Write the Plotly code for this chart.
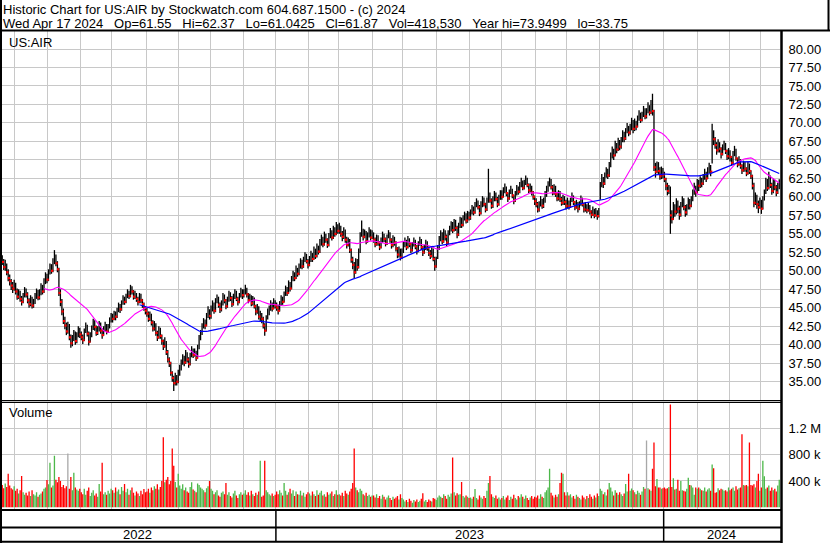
import numpy as np
import pandas as pd
import plotly.graph_objects as go

W, H = 830, 543
FONT = "Liberation Sans, Arial, sans-serif"

# ---------------- data ----------------
dates = pd.bdate_range("2022-04-18", "2024-04-17")

close = [
    51.8, 51.2, 50.5, 50.9, 49.8, 49.0, 48.6, 48.0, 47.6, 48.2,
    47.2, 46.5, 47.0, 46.2, 45.8, 46.6, 47.3, 46.8, 46.0, 45.5, 46.2, 45.3, 45.8, 46.5, 47.1, 46.4, 47.0, 47.8, 47.2, 48.5, 49.2, 48.8,
    49.8, 50.5, 50.0, 51.2, 51.8, 51.0, 50.2, 47.0, 45.8, 44.5, 43.2, 42.6, 41.8, 41.8, 41.0, 40.2, 40.8, 41.5, 40.5, 41.2, 42.0, 41.4,
    41.0, 40.6, 41.8, 42.5, 41.5, 40.4, 41.2, 42.2, 43.0, 42.4, 41.6, 42.0, 42.8, 41.9, 41.3, 42.0, 42.6, 41.8, 42.4, 43.2, 43.8,
    43.5, 44.2, 43.8, 44.6, 45.2, 44.8, 45.6, 46.2, 45.8, 46.5, 47.0, 46.6, 47.6, 47.2, 46.5, 46.9, 46.2, 45.8, 46.6, 46.0, 45.5, 45.0, 44.6,
    44.2, 43.5, 44.0, 43.0, 42.2, 42.8, 41.6, 41.0, 42.0, 41.2, 40.5, 39.8, 40.6, 39.0, 38.0, 37.5, 36.2, 35.5, 34.8, 35.6, 35.0, 36.0,
    36.8, 37.5, 38.2, 37.6, 38.8, 38.0, 37.4, 38.5, 39.2, 38.6, 39.0, 38.2, 39.5, 40.8, 41.5, 42.4, 43.0, 42.6, 43.8, 44.5, 43.9,
    44.8, 45.5, 44.6, 45.8, 46.2, 45.4, 44.8, 45.6, 46.5, 46.0, 45.2, 46.1, 46.8, 46.3, 45.5, 46.4, 47.0, 46.2, 45.8, 46.6, 47.2, 46.7,
    47.0, 47.5, 46.8, 46.0, 46.5, 45.6, 46.2, 45.2, 44.5, 45.0, 43.8, 44.0, 43.5, 42.6, 41.9, 43.6, 44.4, 44.8, 45.5, 44.9, 45.8, 45.3,
    45.0, 44.6, 45.5, 46.2, 45.8, 46.8, 47.5, 47.0, 48.2, 47.6, 48.8, 49.5, 49.0, 50.2, 49.6, 50.5, 51.2, 50.6, 51.4, 52.0, 51.3, 50.8,
    51.5, 52.2, 51.6, 52.8, 52.0, 53.2, 52.6, 53.8, 54.4, 53.6, 54.8, 54.2, 53.5, 54.6, 55.2, 54.5, 55.6, 55.0, 56.0, 55.4,
    55.8, 55.0, 54.6, 55.4, 54.2, 53.5, 54.0, 52.8, 51.5, 50.8, 49.8, 51.2, 50.5, 52.6, 54.8, 55.5, 54.6, 55.2, 54.0, 54.8, 55.4, 54.5, 55.0,
    54.2, 53.6, 54.5, 53.8, 53.2, 54.0, 54.8, 54.3, 53.7, 54.5, 55.0, 54.2, 53.5, 54.4, 53.8, 53.0, 52.2, 52.8, 51.8, 52.6,
    53.4, 54.0, 53.2, 54.2, 53.6, 52.8, 53.5, 54.0, 53.3, 52.7, 53.6, 54.1, 53.2, 52.5, 53.0, 53.8, 53.1, 52.4, 52.0, 52.8, 51.6, 50.6, 51.4,
    53.0, 54.2, 54.8, 54.0, 55.2, 54.6, 53.8, 55.0, 55.6, 56.2, 55.5, 56.5, 55.8, 54.9, 56.0, 56.8, 56.2, 57.0, 57.5, 56.8, 57.6, 57.2,
    57.8, 58.4, 57.9, 58.8, 59.3, 58.6, 57.8, 58.9, 59.6, 59.0, 58.3, 59.4, 60.2, 59.5, 58.8, 59.6, 60.3, 59.7, 59.0, 59.8, 60.4,
    60.0, 60.8, 61.2, 60.5, 59.8, 60.6, 61.0, 60.2, 59.5, 60.4, 61.1, 60.7, 61.5, 62.0, 61.2, 61.8, 62.4, 61.6, 60.9, 61.3, 60.6, 60.0, 59.4,
    59.0, 58.3, 58.9, 59.6, 58.8, 59.4, 60.3, 61.0, 61.6, 62.0, 61.3, 60.6, 61.2, 60.4, 59.8, 60.5, 59.7, 59.2, 59.8, 59.3, 58.8,
    59.4, 58.7, 59.5, 60.1, 59.3, 58.6, 59.2, 58.4, 59.0, 59.7, 59.0, 58.3, 58.9, 58.2, 58.8, 58.0, 57.6, 58.3, 57.5, 58.1, 57.4, 58.0,
    61.5, 62.4, 61.8, 62.8, 63.5, 62.9, 64.2, 65.5, 66.2, 65.6, 67.0, 66.4, 67.5, 66.8, 67.6, 68.5, 67.9, 68.8, 69.5, 68.7, 69.3, 70.0,
    69.2, 70.1, 69.5, 70.6, 71.2, 70.4, 71.0, 71.8, 70.9, 70.9, 72.2, 71.4, 72.6, 71.6, 64.0, 63.4, 64.2, 63.5, 62.8, 63.6, 63.0,
    62.4, 61.5, 60.8, 61.2, 57.5, 57.0, 58.6, 58.0, 59.2, 58.4, 57.6, 58.8, 59.5, 58.6, 57.9, 58.5, 59.4, 58.8, 59.6, 60.5, 61.2, 60.6, 61.8,
    61.5, 62.3, 61.8, 62.6, 63.2, 62.5, 63.5, 64.0, 63.4, 68.5, 67.8, 67.0, 66.3, 67.2, 66.5, 65.8, 66.6, 67.0, 66.2, 65.5, 66.1,
    65.4, 64.6, 65.8, 66.3, 65.2, 64.4, 65.0, 64.2, 63.6, 64.5, 63.8, 63.2, 64.3, 63.5, 62.8, 61.5, 59.2, 60.0, 59.0, 58.6, 59.4,
    58.4, 59.6, 60.5, 61.8, 61.2, 62.4, 61.6, 60.8, 62.0, 61.3, 60.6, 61.5, 61.87,
]

high = [
    52.6, 52.1, 51.6, 51.5, 51.0, 50.2, 49.5, 48.9, 48.5, 48.8,
    48.4, 47.6, 47.5, 47.3, 46.6, 47.0, 47.8, 47.6, 47.1, 46.3, 46.7, 46.5, 46.2, 47.0, 47.6, 47.4, 47.5, 48.3, 48.1, 49.0, 49.8, 49.6,
    50.2, 51.0, 50.9, 51.7, 52.8, 52.2, 51.3, 50.4, 47.5, 46.2, 44.9, 43.8, 43.0, 43.1, 42.8, 41.4, 41.3, 42.0, 41.8, 41.7, 42.5, 42.3,
    41.8, 41.4, 42.2, 43.0, 42.7, 41.8, 41.7, 42.6, 43.5, 43.3, 42.6, 42.5, 43.2, 43.0, 42.2, 42.5, 43.1, 42.8, 42.8, 43.7, 44.3,
    44.2, 44.6, 44.5, 45.0, 45.7, 45.5, 46.0, 46.7, 46.5, 46.9, 47.5, 47.3, 48.1, 47.9, 47.4, 47.3, 47.0, 46.5, 47.0, 46.9, 46.2, 45.7, 45.2,
    45.0, 44.5, 44.5, 44.2, 43.3, 43.2, 42.9, 41.9, 42.5, 42.3, 41.4, 40.7, 41.0, 40.5, 39.3, 38.3, 37.7, 36.4, 35.8, 36.2, 35.9, 36.6,
    37.3, 38.0, 38.7, 38.5, 39.3, 39.0, 38.3, 38.9, 39.8, 39.5, 39.5, 39.2, 40.0, 41.3, 42.0, 42.9, 43.6, 43.4, 44.3, 45.2, 44.8,
    45.3, 46.0, 45.7, 46.3, 46.8, 46.5, 45.7, 46.0, 47.0, 46.8, 46.2, 46.5, 47.3, 47.1, 46.6, 46.9, 47.5, 47.3, 46.5, 47.0, 47.7, 47.5,
    47.5, 48.1, 47.7, 47.0, 46.9, 46.7, 46.6, 46.4, 45.4, 45.5, 45.2, 44.6, 44.3, 43.8, 42.9, 44.0, 44.9, 45.3, 46.0, 45.7, 46.3, 46.0,
    45.7, 45.4, 45.9, 46.7, 46.5, 47.2, 48.0, 47.8, 48.7, 48.5, 49.3, 50.0, 49.8, 50.7, 50.4, 51.0, 51.7, 51.5, 51.9, 52.5, 52.3, 51.6,
    52.0, 52.7, 52.4, 53.3, 53.0, 53.7, 53.4, 54.3, 54.9, 54.6, 55.3, 55.0, 54.4, 55.1, 55.8, 55.5, 56.1, 55.9, 56.6, 56.3,
    56.5, 56.1, 55.4, 55.9, 55.6, 54.6, 54.5, 54.3, 53.0, 51.9, 51.2, 51.7, 51.6, 53.0, 55.2, 56.8, 55.7, 55.6, 55.4, 55.2, 55.9, 55.6, 55.5,
    55.2, 54.5, 54.9, 54.8, 54.0, 54.5, 55.3, 55.0, 54.5, 54.9, 55.5, 55.2, 54.4, 54.8, 54.6, 54.0, 53.2, 53.3, 53.0, 53.0,
    53.9, 54.5, 54.2, 54.7, 54.4, 53.8, 53.9, 54.5, 54.2, 53.5, 54.0, 54.6, 54.3, 53.4, 53.5, 54.2, 54.0, 53.3, 52.8, 53.2, 53.0, 51.9, 51.9,
    53.5, 54.7, 55.5, 55.2, 55.7, 55.5, 54.9, 55.5, 56.1, 56.7, 56.6, 57.0, 56.9, 56.1, 56.5, 57.3, 57.2, 57.5, 58.0, 57.8, 58.1, 58.0,
    58.3, 58.9, 58.7, 59.3, 59.8, 59.5, 58.9, 59.4, 60.1, 59.9, 59.2, 59.9, 63.8, 60.6, 59.8, 60.1, 60.8, 60.6, 60.0, 60.3, 60.9,
    60.9, 61.3, 61.8, 61.4, 60.6, 61.0, 61.5, 61.1, 60.3, 60.8, 61.6, 61.4, 62.0, 62.6, 62.2, 62.3, 62.9, 62.6, 61.8, 61.8, 61.5, 60.8, 60.2,
    59.8, 59.3, 59.4, 60.1, 59.7, 59.9, 60.8, 61.5, 62.1, 62.6, 62.4, 61.6, 61.7, 61.5, 60.7, 60.9, 60.8, 60.0, 60.3, 60.1, 59.6,
    59.9, 59.5, 59.9, 60.6, 60.2, 59.4, 59.6, 59.3, 59.4, 60.2, 59.9, 59.2, 59.3, 59.0, 59.2, 58.9, 58.2, 58.7, 58.4, 58.5, 58.2, 58.5,
    62.0, 63.1, 62.7, 63.3, 64.0, 63.8, 64.7, 66.0, 66.8, 66.5, 67.6, 67.3, 68.0, 67.7, 68.1, 69.0, 68.8, 69.3, 70.0, 69.6, 69.9, 70.7,
    70.4, 70.6, 70.3, 71.0, 71.7, 71.4, 71.5, 72.3, 72.0, 72.0, 72.8, 72.4, 73.1, 73.95, 71.8, 64.6, 64.8, 64.7, 64.0, 64.1, 63.9,
    63.4, 62.6, 61.9, 61.6, 61.4, 58.2, 59.3, 59.0, 59.8, 59.5, 58.8, 59.3, 60.1, 59.8, 58.9, 59.0, 59.9, 59.7, 60.1, 61.0, 61.9, 61.5, 62.4,
    62.3, 62.8, 62.6, 63.1, 63.8, 63.4, 64.0, 64.6, 64.3, 69.9, 69.0, 68.1, 67.4, 67.8, 67.4, 66.7, 67.1, 67.6, 67.3, 66.4, 66.6,
    66.3, 65.5, 66.2, 66.9, 66.5, 65.3, 65.5, 65.1, 64.4, 64.9, 64.7, 64.0, 64.8, 64.5, 63.6, 63.0, 61.9, 60.6, 60.3, 59.5, 59.9,
    59.6, 60.1, 61.0, 62.6, 62.4, 63.4, 62.9, 61.9, 62.5, 62.3, 61.6, 61.9, 62.37,
]

low = [
    51.2, 50.8, 50.1, 50.0, 49.4, 48.6, 48.0, 47.4, 47.0, 47.3,
    46.8, 46.1, 46.2, 45.8, 45.3, 45.6, 46.4, 46.4, 45.6, 45.0, 45.2, 44.9, 45.0, 45.5, 46.2, 46.0, 46.1, 46.7, 46.8, 47.0, 48.2, 48.3,
    48.6, 49.5, 49.6, 49.8, 50.9, 50.6, 49.8, 46.6, 45.2, 44.0, 42.8, 42.1, 41.3, 41.5, 40.6, 39.6, 39.8, 40.5, 40.0, 40.2, 41.0, 40.9,
    40.6, 40.1, 40.5, 41.6, 41.1, 39.9, 40.3, 41.0, 42.0, 41.9, 41.2, 41.3, 41.8, 41.5, 40.8, 41.2, 41.8, 41.4, 41.6, 42.2, 43.0,
    43.0, 43.3, 43.3, 43.6, 44.4, 44.3, 44.6, 45.4, 45.4, 45.6, 46.3, 46.2, 46.4, 46.8, 46.1, 46.2, 45.8, 45.3, 45.6, 45.6, 45.0, 44.6, 44.1,
    43.8, 43.1, 43.2, 42.6, 41.8, 41.9, 41.2, 40.5, 40.8, 40.8, 40.0, 39.3, 39.6, 38.6, 37.6, 37.0, 35.8, 35.0, 33.75, 34.5, 34.5, 34.8,
    35.8, 36.5, 37.3, 37.1, 37.4, 37.6, 36.9, 37.2, 38.3, 38.2, 38.4, 37.8, 38.1, 39.4, 40.6, 41.3, 42.2, 42.1, 42.5, 43.6, 43.4,
    43.5, 44.5, 44.2, 44.4, 45.6, 45.0, 44.3, 44.5, 45.3, 45.6, 44.8, 45.0, 45.8, 45.9, 45.1, 45.3, 46.2, 45.9, 45.3, 45.6, 46.4, 46.2,
    46.4, 46.8, 46.4, 45.6, 45.8, 45.2, 45.3, 44.9, 44.0, 44.2, 43.4, 43.2, 42.9, 42.2, 41.2, 41.8, 43.4, 44.0, 44.6, 44.5, 44.8, 44.9,
    44.6, 44.1, 44.5, 45.3, 45.4, 45.7, 46.6, 46.6, 46.9, 47.2, 47.5, 48.6, 48.6, 48.9, 49.2, 49.4, 50.3, 50.2, 50.4, 51.2, 51.0, 50.3,
    50.6, 51.2, 51.2, 51.5, 51.6, 51.8, 52.2, 52.4, 53.4, 53.2, 53.4, 53.8, 53.1, 53.3, 54.4, 54.1, 54.3, 54.6, 54.8, 55.0,
    55.0, 54.6, 54.0, 54.3, 53.8, 53.0, 53.3, 52.4, 51.1, 50.2, 49.0, 49.6, 50.0, 50.3, 52.4, 54.6, 54.1, 54.4, 53.6, 53.8, 54.5, 54.1, 54.3,
    53.8, 53.2, 53.4, 53.4, 52.8, 53.0, 53.8, 53.9, 53.3, 53.5, 54.4, 53.8, 53.0, 53.2, 53.4, 52.6, 51.7, 51.8, 51.4, 51.6,
    52.4, 53.2, 52.8, 53.0, 53.2, 52.4, 52.6, 53.3, 52.9, 52.2, 52.5, 53.4, 52.8, 52.0, 52.3, 52.8, 52.7, 52.0, 51.6, 51.8, 51.3, 50.0, 50.4,
    51.6, 52.8, 54.0, 53.6, 53.8, 54.1, 53.3, 53.6, 54.8, 55.3, 55.1, 55.3, 55.4, 54.4, 54.7, 55.8, 55.8, 56.0, 56.8, 56.4, 56.5, 56.8,
    56.9, 57.6, 57.5, 57.7, 58.6, 58.3, 57.4, 57.6, 58.6, 58.7, 57.9, 58.1, 59.2, 59.2, 58.4, 58.5, 59.4, 59.4, 58.6, 58.8, 59.6,
    59.6, 59.9, 60.5, 60.1, 59.3, 59.6, 60.4, 59.8, 59.0, 59.3, 60.2, 60.3, 60.5, 61.3, 60.9, 61.0, 61.6, 61.3, 60.5, 60.6, 60.2, 59.6, 58.9,
    58.6, 57.9, 58.0, 58.7, 58.4, 58.5, 59.2, 60.0, 60.7, 61.4, 61.0, 60.2, 60.3, 60.0, 59.4, 59.5, 59.3, 58.8, 58.9, 58.9, 58.3,
    58.5, 58.3, 58.5, 59.3, 58.9, 58.2, 58.4, 57.9, 58.2, 58.8, 58.7, 57.9, 58.0, 57.8, 58.0, 57.6, 57.1, 57.4, 57.1, 57.3, 56.9, 57.2,
    59.6, 61.3, 61.2, 61.6, 62.6, 62.4, 62.7, 64.0, 65.2, 65.0, 65.5, 65.9, 66.2, 66.3, 66.5, 67.4, 67.4, 67.7, 68.6, 68.2, 68.4, 69.0,
    68.6, 68.9, 69.0, 69.4, 70.3, 70.0, 70.2, 70.8, 70.5, 70.6, 71.3, 71.0, 71.2, 71.0, 63.5, 62.6, 63.2, 63.1, 62.3, 62.4, 62.5,
    62.0, 60.9, 60.2, 60.4, 55.0, 56.4, 56.9, 57.3, 57.6, 57.8, 56.9, 57.3, 58.6, 58.2, 57.3, 57.5, 58.3, 58.3, 58.6, 59.4, 60.3, 60.0, 60.5,
    60.8, 61.2, 61.3, 61.6, 62.3, 62.0, 62.4, 63.2, 62.8, 64.5, 67.0, 66.5, 65.7, 66.0, 66.0, 65.2, 65.6, 66.3, 65.8, 65.0, 65.1,
    64.8, 64.2, 64.4, 65.5, 64.9, 64.0, 64.2, 63.8, 63.1, 63.4, 63.4, 62.8, 63.0, 63.1, 62.4, 61.0, 58.6, 58.9, 58.4, 57.8, 58.4,
    57.7, 58.3, 59.5, 60.4, 60.8, 61.0, 61.2, 60.3, 60.5, 60.9, 60.1, 60.4, 61.04,
]

volume_k = [
    300, 340, 290, 360, 310, 508, 330, 290, 270, 320,
    250, 280, 210, 260, 477, 230, 190, 220, 180, 240, 170, 260, 200, 180, 230, 160, 190, 210, 240, 280, 300, 416,
    350, 678, 300, 330, 785, 420, 380, 462, 400, 308, 340, 290, 320, 816, 280, 462, 260, 524, 300, 270, 250, 280,
    230, 200, 280, 190, 250, 300, 170, 220, 260, 180, 210, 160, 354, 240, 678, 200, 230, 190, 250, 210, 280,
    260, 220, 300, 240, 270, 200, 310, 250, 354, 230, 280, 190, 260, 300, 220, 180, 240, 210, 170, 250, 200, 277, 230,
    240, 280, 220, 300, 260, 320, 280, 350, 270, 308, 400, 1063, 380, 420, 460, 350, 400, 893, 631, 385, 300, 508,
    330, 280, 350, 260, 300, 240, 220, 310, 380, 270, 250, 230, 360, 340, 300, 280, 260, 230, 290, 320, 400,
    280, 250, 200, 230, 260, 180, 160, 220, 240, 200, 370, 190, 230, 170, 150, 210, 250, 180, 140, 200, 230, 190,
    210, 260, 190, 230, 180, 250, 200, 170, 220, 190, 240, 708, 160, 180, 708, 260, 230, 200, 180, 210, 170, 190,
    240, 200, 260, 220, 180, 370, 250, 190, 230, 280, 210, 260, 170, 240, 200, 190, 250, 180, 220, 160, 200, 230,
    210, 180, 240, 200, 170, 260, 190, 220, 250, 180, 200, 160, 230, 190, 210, 240, 170, 200, 260, 190,
    200, 180, 220, 170, 250, 210, 190, 240, 280, 370, 893, 300, 260, 230, 280, 250, 200, 180, 220, 170, 190, 160, 180,
    180, 150, 200, 140, 170, 130, 190, 160, 120, 150, 180, 140, 110, 160, 130, 150, 170, 120, 200, 140,
    120, 90, 110, 80, 130, 100, 70, 110, 90, 120, 80, 100, 130, 215, 90, 110, 80, 120, 100, 90, 140, 130, 110,
    150, 180, 160, 140, 200, 170, 130, 190, 160, 210, 755, 230, 180, 215, 190, 200, 385, 170, 150, 180, 160, 140,
    150, 130, 160, 277, 140, 120, 180, 150, 130, 170, 140, 250, 370, 477, 200, 160, 140, 180, 130, 150, 120,
    140, 170, 120, 150, 180, 110, 160, 130, 190, 140, 120, 170, 150, 200, 160, 130, 180, 140, 110, 150, 170, 130, 160,
    150, 180, 130, 200, 160, 140, 230, 260, 300, 585, 220, 180, 150, 190, 160, 200, 370, 524, 508, 230, 180,
    230, 180, 200, 150, 170, 130, 190, 160, 140, 120, 180, 150, 123, 170, 140, 200, 160, 130, 180, 150, 210, 170,
    280, 250, 200, 230, 180, 270, 370, 300, 240, 180, 260, 220, 190, 230, 200, 170, 210, 355, 240, 508, 250, 285,
    260, 230, 200, 250, 220, 190, 240, 308, 280, 1016, 290, 270, 250, 585, 985, 320, 431, 300, 300, 280, 290,
    300, 280, 290, 310, 1560, 308, 440, 270, 280, 420, 250, 400, 260, 250, 240, 280, 450, 340, 330, 300, 190, 300, 280,
    300, 280, 260, 250, 300, 240, 270, 290, 250, 650, 595, 220, 230, 290, 260, 280, 270, 250, 260, 240, 300,
    260, 280, 300, 250, 320, 270, 290, 300, 1108, 340, 330, 340, 320, 985, 340, 330, 350, 300, 400, 508, 250,
    300, 708, 470, 280, 300, 330, 250, 300, 260, 280, 240, 330, 419,
]

fast_window = 30
slow_window = 94

price_ticks = [35.0, 37.5, 40.0, 42.5, 45.0, 47.5, 50.0, 52.5, 55.0, 57.5,
               60.0, 62.5, 65.0, 67.5, 70.0, 72.5, 75.0, 77.5, 80.0]
vol_ticks = [400, 800, 1200]
vol_tick_labels = ["400 k", "800 k", "1.2 M"]

title_line = "Historic Chart for US:AIR by Stockwatch.com 604.687.1500 - (c) 2024"
info_items = ["Wed Apr 17 2024", "Op=61.55", "Hi=62.37", "Lo=61.0425",
              "Cl=61.87", "Vol=418,530", "Year hi=73.9499", "lo=33.75"]
symbol_label = "US:AIR"
volume_label = "Volume"

# ---------------- preparation ----------------
n = min(len(dates), len(close), len(high), len(low), len(volume_k))
d = dates[:n]
c = np.array(close[:n], dtype=float)
hi = np.array(high[:n], dtype=float)
lo = np.array(low[:n], dtype=float)
vol = np.array(volume_k[:n], dtype=float)
idx = np.arange(n)

ma_fast = pd.Series(c).rolling(fast_window).mean()
ma_slow = pd.Series(c).rolling(slow_window).mean()

GREEN, RED, GRAY = "#4db84a", "#ff0000", "#a8a8a8"
vcol = []
for i in range(n):
    if i == 0 or c[i] == c[i - 1]:
        vcol.append(GRAY)
    elif c[i] > c[i - 1]:
        vcol.append(GREEN)
    else:
        vcol.append(RED)

bx, by = [], []
for i in range(n):
    bx += [i, i, None]
    by += [lo[i], hi[i], None]

down = [i for i in range(1, n) if c[i] < c[i - 1]]

month_starts = [i for i in range(1, n) if d[i].month != d[i - 1].month]
year_starts = [i for i in range(1, n) if d[i].year != d[i - 1].year]
grid_x = [i - 0.5 for i in month_starts]

# ---------------- geometry (pixels) ----------------
def X(px):
    return px / W

def Y(py):
    return 1 - py / H

plot_right = 780
price_top, price_bot = 31, 400
vol_top, vol_bot = 402.5, 509.5
p80_y, p35_y = 49.0, 381.7
ppu = (p35_y - p80_y) / 45.0
price_range = [80 - (price_bot - p80_y) / ppu, 80 + (p80_y - price_top) / ppu]
v0_y = 507.3
vpp = 26.33 / 400.0
vol_range = [-(vol_bot - v0_y) / vpp, (v0_y - vol_top) / vpp]
xr = [-0.5, n - 0.5]

GRID = "#c8c8c8"

fig = go.Figure()

# price bars
fig.add_trace(go.Scatter(x=bx, y=by, mode="lines", line=dict(color="black", width=1.3),
                         hoverinfo="skip", showlegend=False, xaxis="x", yaxis="y"))
fig.add_trace(go.Scatter(x=[i + 0.45 for i in down], y=[c[i] for i in down], mode="markers",
                         marker=dict(symbol="square", size=2.2, color=RED, line=dict(width=0)),
                         hoverinfo="skip", showlegend=False, xaxis="x", yaxis="y"))
# moving averages
fig.add_trace(go.Scatter(x=idx, y=ma_fast, mode="lines", line=dict(color="#ff00ff", width=1.1),
                         hoverinfo="skip", showlegend=False, xaxis="x", yaxis="y"))
fig.add_trace(go.Scatter(x=idx, y=ma_slow, mode="lines", line=dict(color="#0000ff", width=1.2),
                         hoverinfo="skip", showlegend=False, xaxis="x", yaxis="y"))
# volume
fig.add_trace(go.Bar(x=idx, y=vol, marker=dict(color=vcol, line=dict(width=0)), width=0.88,
                     hoverinfo="skip", showlegend=False, xaxis="x2", yaxis="y2"))

axis_common = dict(showline=False, zeroline=False, showgrid=True, gridcolor=GRID, gridwidth=1)

fig.update_layout(
    width=W, height=H, autosize=False,
    margin=dict(l=0, r=0, t=0, b=0),
    paper_bgcolor="white", plot_bgcolor="white",
    font=dict(family=FONT, size=13, color="black"),
    showlegend=False, hovermode=False,
    xaxis=dict(domain=[0, X(plot_right)], range=xr, tickmode="array", tickvals=grid_x,
               showticklabels=False, ticks="", anchor="y", **axis_common),
    yaxis=dict(domain=[Y(price_bot), Y(price_top)], range=price_range, tickmode="array",
               tickvals=price_ticks, ticktext=[f"{v:.2f}" for v in price_ticks],
               side="right", anchor="x", ticks="outside", ticklen=5, tickcolor="rgba(0,0,0,0)",
               tickfont=dict(family=FONT, size=13, color="black"), **axis_common),
    xaxis2=dict(domain=[0, X(plot_right)], range=xr, tickmode="array", tickvals=grid_x,
                showticklabels=False, ticks="", anchor="y2", matches="x", **axis_common),
    yaxis2=dict(domain=[Y(vol_bot), Y(vol_top)], range=vol_range, tickmode="array",
                tickvals=vol_ticks, ticktext=vol_tick_labels,
                side="right", anchor="x2", ticks="outside", ticklen=5, tickcolor="rgba(0,0,0,0)",
                tickfont=dict(family=FONT, size=13, color="black"), **axis_common),
)

shapes = []

def hline(py, x0, x1, w):
    shapes.append(dict(type="line", xref="paper", yref="paper", x0=X(x0), x1=X(x1),
                       y0=Y(py), y1=Y(py), line=dict(color="black", width=w)))

def vline(px, y0, y1, w):
    shapes.append(dict(type="line", xref="paper", yref="paper", x0=X(px), x1=X(px),
                       y0=Y(y0), y1=Y(y1), line=dict(color="black", width=w)))

hline(30.5, 0, 830, 2)          # header bottom
vline(828.5, 0, 31, 2)          # header right
vline(1, 0, 543, 2)             # left border
vline(781.5, 30, 543, 2.5)      # right edge of panes
hline(400.5, 0, 782, 1.2)       # price pane bottom
hline(402.3, 0, 782, 1.2)       # volume pane top
hline(510, 0, 782, 2)           # volume pane bottom
hline(527.5, 0, 782, 2)         # row divider
hline(541.8, 0, 782, 2)         # bottom border
for ys in year_starts:
    shapes.append(dict(type="line", xref="x", yref="paper", x0=ys - 0.5, x1=ys - 0.5,
                       y0=Y(510), y1=Y(542), line=dict(color="black", width=1.5)))
fig.update_layout(shapes=shapes)

ann = []

def text(px, py, s, xanchor="left", size=13):
    ann.append(dict(x=X(px), y=Y(py), xref="paper", yref="paper", text=s, showarrow=False,
                    xanchor=xanchor, yanchor="middle", font=dict(family=FONT, size=size, color="black")))

SEP = "\u00a0\u00a0\u00a0"
text(1, 9.5, title_line)
text(1, 23, SEP.join(info_items))
text(7.3, 42, symbol_label)
text(7.3, 413, volume_label)

bounds = [-0.5] + [ys - 0.5 for ys in year_starts] + [n - 0.5]
years = [d[0].year] + [d[ys].year for ys in year_starts]
for k, yr in enumerate(years):
    mid = (bounds[k] + bounds[k + 1]) / 2
    ann.append(dict(x=mid, y=Y(534.5), xref="x", yref="paper", text=str(yr), showarrow=False,
                    xanchor="center", yanchor="middle", font=dict(family=FONT, size=13, color="black")))
fig.update_layout(annotations=ann)

fig.write_html("out.html", include_plotlyjs=True,
               config={"displayModeBar": False, "staticPlot": True},
               post_script="document.body.style.margin='0';document.body.style.overflow='hidden';")
